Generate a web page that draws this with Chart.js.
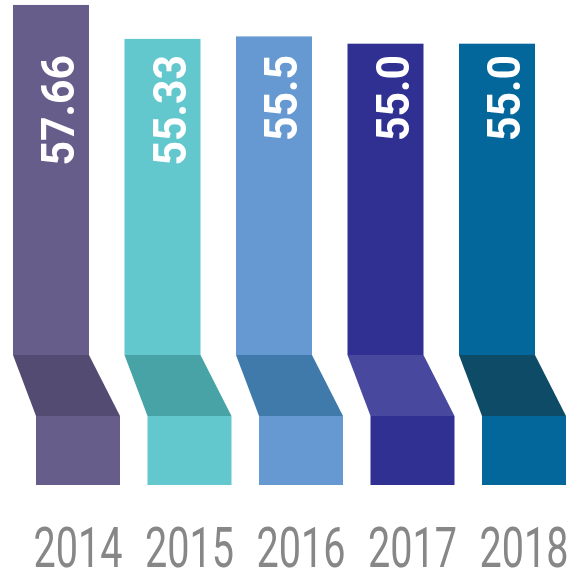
<!DOCTYPE html>
<html>
<head>
<meta charset="utf-8">
<script src="https://cdn.jsdelivr.net/npm/chart.js@4.4.1/dist/chart.umd.min.js"></script>
<style>
  html, body { margin: 0; padding: 0; background: #fff; }
  #wrap { width: 569px; height: 575px; }
</style>
</head>
<body>
<div id="wrap"><canvas id="chart" width="569" height="575"></canvas></div>
<script>
// ================================================================
//  DATOS
// ================================================================
const years = ['2014', '2015', '2016', '2017', '2018'];
const values = [57.66, 55.33, 55.5, 55.0, 55.0];
const valueLabels = ['57.66', '55.33', '55.5', '55.0', '55.0'];

// colores: tramo principal y pliegue
const mainColors = ['#675d8a', '#63c7ce', '#6699d2', '#2f3092', '#03679c'];
const foldColors = ['#544b72', '#47a3a5', '#3f7aab', '#48499e', '#0e4b66'];

// ================================================================
//  CINTA PLEGADA (dibujada sobre cada barra) + etiquetas
// ================================================================
const ribbonPlugin = {
    id: 'ribbon',
    afterDatasetsDraw(chart) {
        const ctx = chart.ctx;
        const yScale = chart.scales.y;
        const xScale = chart.scales.x;
        const base = yScale.getPixelForValue(yScale.min);
        const meta = chart.getDatasetMeta(0);

        meta.data.forEach((bar, i) => {
            const xc = bar.x, top = bar.y;
            const foldTop = base - 130;
            const foldBot = base - 69;
            const l1 = xc - 65, r1 = l1 + 76;   // tramo superior
            const l2 = xc - 42, r2 = xc + 42;   // tramo inferior

            ctx.save();
            ctx.fillStyle = mainColors[i];
            ctx.fillRect(l1, top, r1 - l1, foldTop - top);
            ctx.fillRect(l2, foldBot, r2 - l2, base - foldBot);

            ctx.fillStyle = foldColors[i];
            ctx.beginPath();
            ctx.moveTo(l1, foldTop);
            ctx.lineTo(r1, foldTop);
            ctx.lineTo(r2, foldBot);
            ctx.lineTo(l2, foldBot);
            ctx.closePath();
            ctx.fill();
            ctx.restore();

            // etiqueta del valor, girada
            ctx.save();
            ctx.translate(l1 + 61, 55);
            ctx.rotate(-Math.PI / 2);
            ctx.scale(0.93, 1);
            ctx.font = 'bold 46px Roboto, sans-serif';
            ctx.fillStyle = '#ffffff';
            ctx.textAlign = 'right';
            ctx.textBaseline = 'alphabetic';
            ctx.fillText(valueLabels[i], 0, 0);
            ctx.restore();

            // año debajo de la barra
            ctx.save();
            ctx.translate(xScale.getPixelForTick(i), 567);
            ctx.scale(0.72, 1);
            ctx.font = '55px Roboto, sans-serif';
            ctx.fillStyle = '#878787';
            ctx.textAlign = 'center';
            ctx.textBaseline = 'alphabetic';
            ctx.fillText(chart.data.labels[i], 0, 0);
            ctx.restore();
        });
    }
};

new Chart(document.getElementById('chart').getContext('2d'), {
    type: 'bar',
    data: {
        labels: years,
        datasets: [{
            data: values,
            backgroundColor: 'rgba(0,0,0,0)',
            borderWidth: 0
        }]
    },
    options: {
        responsive: false,
        animation: false,
        layout: { padding: { left: 78, right: 45, top: 0, bottom: 90 } },
        plugins: {
            legend: { display: false },
            tooltip: { enabled: false }
        },
        scales: {
            x: { display: false, offset: false },
            y: { display: false, min: 24.7, max: 58 }
        }
    },
    plugins: [ribbonPlugin]
});
</script>
</body>
</html>
